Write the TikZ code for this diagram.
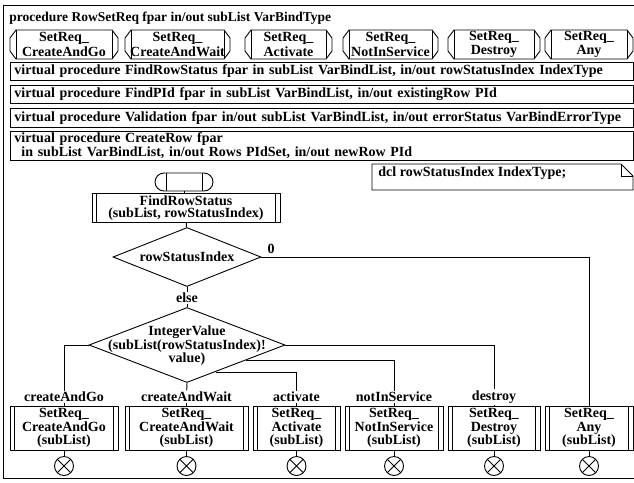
\documentclass[tikz,border=0pt]{standalone}
\usepackage{fontspec}
\setmainfont{Liberation Serif}
\usetikzlibrary{shapes.geometric,calc}

% procedure reference symbol: chamfered box with an inner bar at each end
\newcommand\procref[6]{%
  \node[reftext] (#1) at ({(#2+#4)/2},{(#3+#5)/2}) {#6};
  \draw (#2+6,#3) -- (#4-6,#3) -- (#4,#3+8) -- (#4,#5-8) -- (#4-6,#5)
        -- (#2+6,#5) -- (#2,#5-8) -- (#2,#3+8) -- cycle;
  \draw (#2+6,#3) -- (#2+6,#5) (#4-6,#3) -- (#4-6,#5);
}
% procedure call symbol: box with a double bar at each end
\newcommand\callbars[1]{%
  \draw ([xshift=5pt]#1.north west) -- ([xshift=5pt]#1.south west)
        ([xshift=-5pt]#1.north east) -- ([xshift=-5pt]#1.south east);
}

\tikzset{
  every node/.style={font=\fontsize{14}{13.5}\selectfont\bfseries},
  reftext/.style={align=center, inner sep=0pt,
    font=\fontsize{14}{14.5}\selectfont\bfseries},
  rowbox/.style={draw, anchor=north west, text width=615pt, inner xsep=4pt,
    inner ysep=0pt, align=left},
  callbox/.style={draw, align=center, inner sep=0pt, minimum height=44pt},
  decision/.style={draw, diamond, inner sep=0pt},
  lbl/.style={fill=white, inner sep=1pt},
  stopsym/.style={circle, draw, minimum size=19pt, inner sep=0pt,
    path picture={\draw (path picture bounding box.north west) -- (path picture bounding box.south east)
                        (path picture bounding box.south west) -- (path picture bounding box.north east);}},
}

\begin{document}
\begin{tikzpicture}[x=1pt, y=-1pt, line width=0.9pt]
\useasboundingbox (0,0) rectangle (634,482);
\clip (0,0) rectangle (634,482);

% diagram frame
\draw (3,5) rectangle (645,478);

% heading
\node[anchor=west, inner sep=0pt, font=\fontsize{13.5}{13.5}\selectfont\bfseries] (hdr) at (9,18)
  {procedure RowSetReq fpar in/out subList VarBindType};

% referenced procedures
\procref{r1}{10}{30}{118}{59}{SetReq\_\\CreateAndGo}
\procref{r2}{125}{30}{230}{59}{SetReq\_\\CreateAndWait}
\procref{r3}{245}{30}{332}{59}{SetReq\_\\Activate}
\procref{r4}{343}{30}{438}{59}{SetReq\_\\NotInService}
\procref{r5}{448}{30}{540}{59}{SetReq\_\\Destroy}
\procref{r6}{545}{30}{633}{59}{SetReq\_\\Any}

% virtual procedure declarations
\node[rowbox, minimum height=18pt] (vfr) at (10,62)
  {virtual procedure FindRowStatus fpar in subList VarBindList, in/out rowStatusIndex IndexType};
\node[rowbox, minimum height=18pt] (vfp) at (10,85)
  {virtual procedure FindPId fpar in subList VarBindList, in/out existingRow PId};
\node[rowbox, minimum height=19pt] (vva) at (10,108)
  {virtual procedure Validation fpar in/out subList VarBindList, in/out errorStatus VarBindErrorType};
\node[rowbox, minimum height=29pt, font=\fontsize{14}{12.5}\selectfont\bfseries] (vcr) at (10,131)
  {virtual procedure CreateRow fpar\\\hspace*{7pt}in subList VarBindList, in/out Rows PIdSet, in/out newRow PId};

% text symbol with folded corner
\draw (372,164) -- (621,164) -- (633,176) -- (633,190) -- (372,190) -- cycle;
\draw (621,164) -- (621,176) -- (633,176);
\node[anchor=north west, inner sep=0pt] (dcl) at (378,166) {dcl rowStatusIndex IndexType;};

% procedure start
\node[draw, rounded corners=9pt, minimum width=58pt, minimum height=18pt, inner sep=0pt] (st) at (184,182) {};
\draw ([xshift=-18pt]st.north) -- ([xshift=-18pt]st.south)
      ([xshift=18pt]st.north) -- ([xshift=18pt]st.south);

% FindRowStatus call
\node[callbox, minimum width=188pt, minimum height=29pt,
      font=\fontsize{14}{12.5}\selectfont\bfseries] (frs) at (186,208)
  {FindRowStatus\\(subList, rowStatusIndex)};
\callbars{frs}

% decisions
\node[decision, minimum width=148pt, minimum height=59pt] (d1) at (187,257) {};
\node (d1t) at (d1) {rowStatusIndex};
\node[lbl] (lzero) at (271,249) {0};
\node[lbl] (lelse) at (187,298) {else};
\node[decision, minimum width=196pt, minimum height=75pt] (d2) at (187,345) {};
\node[align=center, inner sep=0pt] (d2t) at (187,346) {IntegerValue\\(subList(rowStatusIndex)!\\value)};

% branch answers
\node[lbl] (lgo)   at (64,397)  {createAndGo};
\node[lbl] (lwait) at (186.5,397) {createAndWait};
\node[lbl] (lact)  at (296.5,397) {activate};
\node[lbl] (lnis)  at (394,397) {notInService};
\node[lbl] (ldes)  at (494,397) {destroy};

% called procedures
\node[callbox, minimum width=108pt] (bgo)   at (64,428)    {SetReq\_\\CreateAndGo\\(subList)};
\node[callbox, minimum width=123pt] (bwait) at (186.5,428) {SetReq\_\\CreateAndWait\\(subList)};
\node[callbox, minimum width=87pt]  (bact)  at (296.5,428) {SetReq\_\\Activate\\(subList)};
\node[callbox, minimum width=98pt]  (bnis)  at (394,428)   {SetReq\_\\NotInService\\(subList)};
\node[callbox, minimum width=92pt]  (bdes)  at (494,428)   {SetReq\_\\Destroy\\(subList)};
\node[callbox, minimum width=88pt]  (bany)  at (589,428)   {SetReq\_\\Any\\(subList)};
\foreach \b in {bgo,bwait,bact,bnis,bdes,bany} {\callbars{\b}}

% stops
\node[stopsym] (xgo)   at (64,466)    {};
\node[stopsym] (xwait) at (186.5,466) {};
\node[stopsym] (xact)  at (296.5,466) {};
\node[stopsym] (xnis)  at (394,466)   {};
\node[stopsym] (xdes)  at (494,466)   {};
\node[stopsym] (xany)  at (589,466)   {};

% flow lines
\draw (st) -- (st |- frs.north);
\draw (frs) -- (d1);
\draw (d1.south) -- (lelse);
\draw (lelse) -- (d2.north);
\draw (d1.east) -| (bany);

\coordinate (pact) at ($(d2.south)!0.29!(d2.east)$);
\coordinate (pnis) at ($(d2.south)!0.60!(d2.east)$);
\draw (d2.west) -| (lgo);
\draw (d2.south) -- (lwait);
\draw (pact) -| (lact);
\draw (pnis) -| (lnis);
\draw (d2.east) -| (ldes);

\draw (lgo) -- (bgo);
\draw (lwait) -- (bwait);
\draw (lact) -- (bact);
\draw (lnis) -- (bnis);
\draw (ldes) -- (bdes);

\draw (bgo) -- (xgo);
\draw (bwait) -- (xwait);
\draw (bact) -- (xact);
\draw (bnis) -- (xnis);
\draw (bdes) -- (xdes);
\draw (bany) -- (xany);
\end{tikzpicture}
\end{document}
